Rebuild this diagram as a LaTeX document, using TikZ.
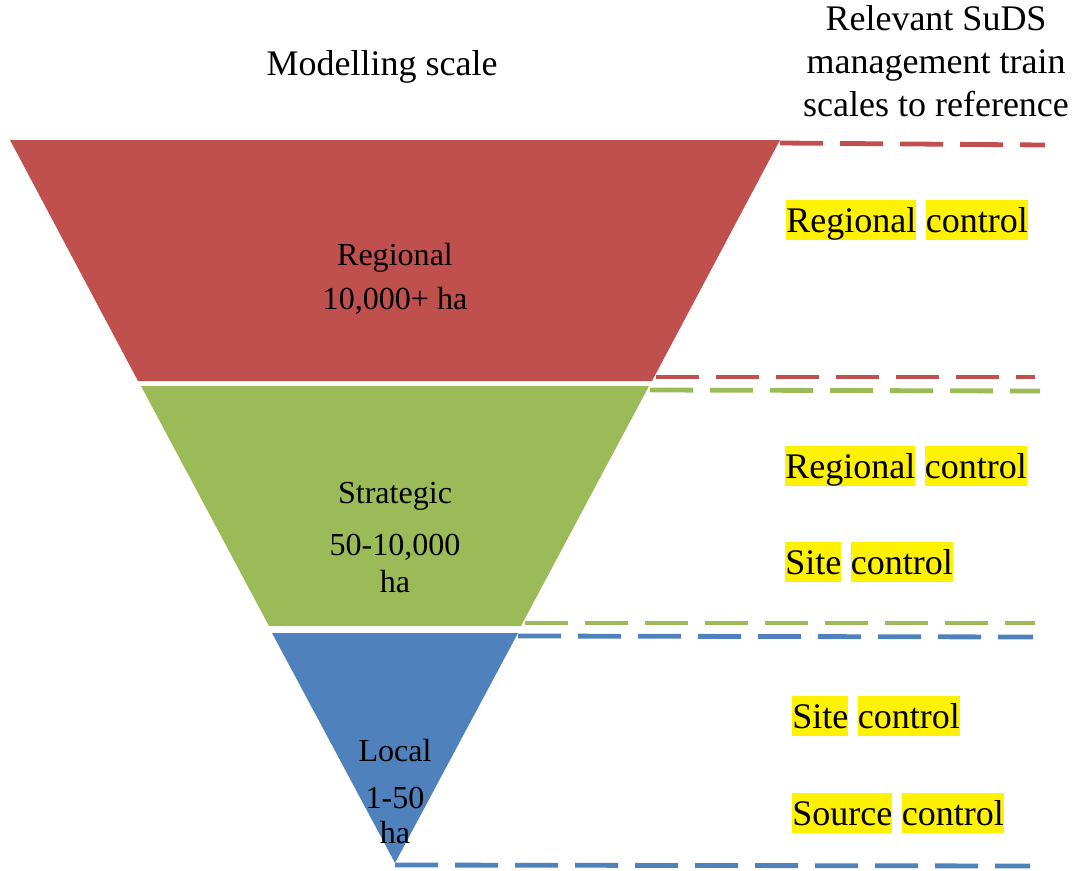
\documentclass[tikz,border=0pt]{standalone}
\usepackage{fontspec}
\setmainfont{Liberation Serif}
\usetikzlibrary{positioning}
\definecolor{regred}{HTML}{C0504D}
\definecolor{stratgreen}{HTML}{9BBB59}
\definecolor{localblue}{HTML}{4F81BD}
\tikzstyle{heading} = [font=\rmfamily\fontsize{25.6}{30.6}\selectfont, align=center]
\tikzstyle{bandlabel} = [font=\rmfamily\fontsize{22.8}{27}\selectfont, inner sep=0pt, text centered]
\tikzstyle{marked} = [font=\rmfamily\fontsize{25.6}{30.6}\selectfont, fill=yellow, inner sep=0pt, text height=0.8cm, text depth=0.2cm]
\tikzstyle{level} = [line width=0.12cm, dash pattern=on 1.075cm off 0.425cm]

\begin{document}
\begin{tikzpicture}[x=0.025cm, y=-0.025cm]
	\useasboundingbox (0,0) rectangle (1078,870);

	% Headings
	\node (model_head) [heading] at (382,67) {Modelling scale};
	\node (train_head) [heading] at (936,61) {Relevant SuDS\\management train\\scales to reference};

	% Funnel corners
	\coordinate (red_tl) at (10,140);
	\coordinate (red_tr) at (780,140);
	\coordinate (red_br) at (652,381);
	\coordinate (red_bl) at (138,381);
	\coordinate (green_tl) at (141,386);
	\coordinate (green_tr) at (649,386);
	\coordinate (green_br) at (521,626);
	\coordinate (green_bl) at (269,626);
	\coordinate (blue_tl) at (272,633);
	\coordinate (blue_tr) at (518,633);
	\coordinate (blue_apex) at (395,863);

	% Funnel bands
	\fill[regred] (red_tl) -- (red_tr) -- (red_br) -- (red_bl) -- cycle;
	\fill[stratgreen] (green_tl) -- (green_tr) -- (green_br) -- (green_bl) -- cycle;
	\fill[localblue] (blue_tl) -- (blue_tr) -- (blue_apex) -- cycle;

	% Band labels
	\node (reg_name) [bandlabel] at (395,258) {Regional};
	\node (reg_area) [bandlabel, below=0.35cm of reg_name] {10,000+ ha};
	\node (strat_name) [bandlabel] at (395,496) {Strategic};
	\node (strat_area) [bandlabel, below=0.6cm of strat_name] {50-10,000};
	\node (strat_unit) [bandlabel, below=0.22cm of strat_area] {ha};
	\node (loc_name) [bandlabel] at (395,751) {Local};
	\node (loc_area) [bandlabel, below=0.6cm of loc_name] {1-50};
	\node (loc_unit) [bandlabel, below=0.3cm of loc_area] {ha};

	% Ends of the dashed levels
	\coordinate (red_top_a) at (780,143);
	\coordinate (red_top_b) at (1045,145);
	\coordinate (red_bot_a) at (656,377);
	\coordinate (red_bot_b) at (1035,377);
	\coordinate (green_top_a) at (650,390);
	\coordinate (green_top_b) at (1040,391);
	\coordinate (green_bot_a) at (525,623);
	\coordinate (green_bot_b) at (1035,623);
	\coordinate (blue_top_a) at (518,636);
	\coordinate (blue_top_b) at (1033,637);
	\coordinate (blue_bot_a) at (395,865);
	\coordinate (blue_bot_b) at (1030,866);

	% Dashed levels
	\draw[level, regred] (red_top_a) -- (red_top_b);
	\draw[level, regred] (red_bot_a) -- (red_bot_b);
	\draw[level, stratgreen] (green_top_a) -- (green_top_b);
	\draw[level, stratgreen] (green_bot_a) -- (green_bot_b);
	\draw[level, localblue] (blue_top_a) -- (blue_top_b);
	\draw[level, localblue] (blue_bot_a) -- (blue_bot_b);

	% Management train scales
	\node (reg1_a) [marked, anchor=west] at (786,220) {Regional};
	\node (reg1_b) [marked, right=0.225cm of reg1_a] {control};
	\node (reg2_a) [marked, anchor=west] at (785,466) {Regional};
	\node (reg2_b) [marked, right=0.225cm of reg2_a] {control};
	\node (site1_a) [marked, anchor=west] at (785,562) {Site};
	\node (site1_b) [marked, right=0.225cm of site1_a] {control};
	\node (site2_a) [marked, anchor=west] at (792,716) {Site};
	\node (site2_b) [marked, right=0.225cm of site2_a] {control};
	\node (src_a) [marked, anchor=west] at (792,813) {Source};
	\node (src_b) [marked, right=0.225cm of src_a] {control};

\end{tikzpicture}
\end{document}
